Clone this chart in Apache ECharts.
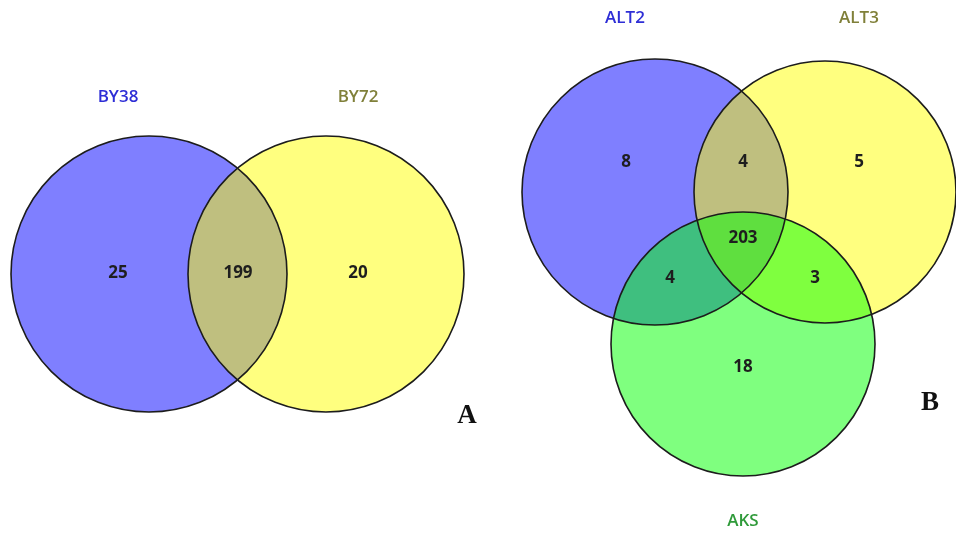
<!DOCTYPE html>
<html>
<head>
<meta charset="utf-8">
<script src="https://cdn.jsdelivr.net/npm/echarts@6/dist/echarts.min.js"></script>
<style>html,body{margin:0;padding:0;background:#fff;}#c{width:956px;height:540px;}</style>
</head>
<body>
<div id="c"></div>
<script>
// ---- Data ----
// Panel A: two sets
const setsA = ['BY38', 'BY72'];
const regionsA = ['BY38 only', 'BY38 ∩ BY72', 'BY72 only'];
const countsA = [25, 199, 20];
// Panel B: three sets
const setsB = ['ALT2', 'ALT3', 'AKS'];
const regionsB = ['ALT2 only', 'ALT2 ∩ ALT3', 'ALT3 only', 'ALT2 ∩ ALT3 ∩ AKS', 'ALT2 ∩ AKS', 'ALT3 ∩ AKS', 'AKS only'];
const countsB = [8, 4, 5, 203, 4, 3, 18];
const panelTags = ['A', 'B'];

// ---- Layout (data-space units of a hidden 956 x 540 value plane) ----
const circleLayoutA = [[149, 274, 138], [326, 274, 138]];
const circleLayoutB = [[655, 192, 133], [825, 192, 131], [743, 344, 132]];
const setLabelPosA = [[118, 97], [358, 97]];
const setLabelPosB = [[625, 18], [859, 18], [743, 521]];
const regionPosA = [[118, 273], [238, 273], [358, 273]];
const regionPosB = [[626, 162], [743, 162], [859, 162], [743, 238], [670, 278], [815, 278], [743, 367]];
const tagPos = [[467, 416], [930, 403]];

// ---- Styles ----
const fillColors = ['rgba(0,0,255,0.5)', 'rgba(255,255,0,0.5)', 'rgba(0,255,0,0.5)'];
const labelColors = ['#2e2ed6', '#80803a', '#2f9a3a'];

const circles = [];
circleLayoutA.forEach((g, i) => circles.push([g[0], g[1], g[2], i]));
circleLayoutB.forEach((g, i) => circles.push([g[0], g[1], g[2], i]));

const texts = [];
setsA.forEach((s, i) => texts.push({ v: [setLabelPosA[i][0], setLabelPosA[i][1]], t: s, k: 'set', c: i }));
setsB.forEach((s, i) => texts.push({ v: [setLabelPosB[i][0], setLabelPosB[i][1]], t: s, k: 'set', c: i }));
countsA.forEach((n, i) => texts.push({ v: [regionPosA[i][0], regionPosA[i][1]], t: String(n), k: 'num' }));
countsB.forEach((n, i) => texts.push({ v: [regionPosB[i][0], regionPosB[i][1]], t: String(n), k: 'num' }));
panelTags.forEach((p, i) => texts.push({ v: [tagPos[i][0], tagPos[i][1]], t: p, k: 'tag' }));

function circleItem(fill) {
  return function (params, api) {
    const c = api.coord([api.value(0), api.value(1)]);
    const r = api.size([api.value(2), api.value(2)])[0];
    const ci = api.value(3);
    return {
      type: 'circle',
      shape: { cx: c[0], cy: c[1], r: r },
      style: fill ? { fill: fillColors[ci], stroke: null } : { fill: null, stroke: '#1c1c1c', lineWidth: 1.6 }
    };
  };
}

const chart = echarts.init(document.getElementById('c'), null, { renderer: 'canvas' });
chart.setOption({
  backgroundColor: '#ffffff',
  animation: false,
  grid: { left: 0, right: 0, top: 0, bottom: 0 },
  xAxis: { type: 'value', min: 0, max: 956, show: false },
  yAxis: { type: 'value', min: 0, max: 540, inverse: true, show: false },
  series: [
    { type: 'custom', clip: false, data: circles, renderItem: circleItem(true), silent: true },
    { type: 'custom', clip: false, data: circles, renderItem: circleItem(false), silent: true },
    {
      type: 'custom', clip: false, silent: true,
      data: texts.map(d => d.v),
      renderItem: function (params, api) {
        const d = texts[params.dataIndex];
        const p = api.coord([api.value(0), api.value(1)]);
        let style;
        if (d.k === 'set') {
          style = { text: d.t, fill: labelColors[d.c], font: '600 17px "Open Sans"' };
        } else if (d.k === 'num') {
          style = { text: d.t, fill: '#1e1e1e', font: 'bold 17px "Open Sans"' };
        } else {
          style = { text: d.t, fill: '#111111', font: 'bold 27px "Liberation Serif"' };
        }
        style.x = p[0]; style.y = p[1]; style.align = 'center'; style.verticalAlign = 'middle';
        return { type: 'text', style: style };
      }
    }
  ]
});
</script>
</body>
</html>
